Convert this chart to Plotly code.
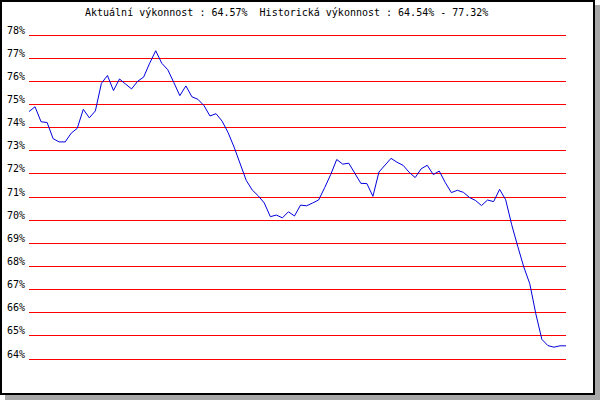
import plotly.graph_objs as go

# Performance series (%)
vykon = [74.69, 74.90, 74.25, 74.22, 73.52, 73.38, 73.38, 73.76, 73.97, 74.79,
         74.42, 74.72, 75.91, 76.25, 75.60, 76.10, 75.88, 75.67, 76.00, 76.18,
         76.78, 77.32, 76.78, 76.50, 75.95, 75.38, 75.80, 75.33, 75.22, 74.95,
         74.50, 74.60, 74.28, 73.78, 73.15, 72.45, 71.72, 71.30, 71.05, 70.74,
         70.15, 70.22, 70.10, 70.36, 70.18, 70.65, 70.62, 70.74, 70.87, 71.40,
         71.97, 72.62, 72.42, 72.46, 72.00, 71.59, 71.58, 71.03, 72.08, 72.40,
         72.67, 72.50, 72.37, 72.07, 71.84, 72.22, 72.37, 71.97, 72.12, 71.62,
         71.19, 71.29, 71.20, 70.98, 70.85, 70.63, 70.87, 70.80, 71.33, 70.88,
         69.80, 68.87, 67.98, 67.25, 65.95, 64.85, 64.58, 64.51, 64.57, 64.57]
y_ticks = list(range(64, 79))
y_labels = [f"{v}%" for v in y_ticks]
nadpis = "Aktuální výkonnost : 64.57%  Historická výkonnost : 64.54% - 77.32%"

W, H = 600, 400
# plot area: 78% line at y=35 px, 64% line at y=359 px; pad 3 px so edge gridlines are drawn
L, R, T, B = 29, 34, 32, 38
pw, ph = W - L - R, H - T - B
y_pad = 3 * 14 / 324


def px(x):
    return (x - L) / pw


def py(y):
    return (H - B - y) / ph


font = dict(family="DejaVu Sans Mono", size=10, color="black")

fig = go.Figure()
fig.add_trace(go.Scatter(x=list(range(len(vykon))), y=vykon, mode="lines",
                         line=dict(color="#0000dd", width=1), hoverinfo="skip",
                         cliponaxis=False))

fig.update_layout(
    width=W, height=H,
    margin=dict(l=L, r=R, t=T, b=B, pad=0, autoexpand=False),
    paper_bgcolor="white",
    plot_bgcolor="rgba(0,0,0,0)",
    showlegend=False,
    xaxis=dict(range=[0, len(vykon) - 1], visible=False, automargin=False),
    yaxis=dict(range=[64 - y_pad, 78 + y_pad], tickvals=y_ticks, ticktext=y_labels,
               showgrid=True, gridcolor="#ff0000", gridwidth=1,
               zeroline=False, showline=False, ticks="", automargin=False,
               tickfont=font, ticklabelshift=-5, ticklabelstandoff=3),
    shapes=[
        # shadow
        dict(type="rect", xref="paper", yref="paper", layer="below",
             x0=px(5), x1=px(600), y0=py(5), y1=py(400),
             fillcolor="#a8a8a8", line=dict(width=0)),
        # frame
        dict(type="rect", xref="paper", yref="paper", layer="below",
             x0=px(1), x1=px(594), y0=py(1), y1=py(394),
             fillcolor="white", line=dict(color="black", width=2)),
    ],
    annotations=[
        dict(text=nadpis, xref="paper", yref="paper", x=px(83), y=py(13),
             xanchor="left", yanchor="middle", showarrow=False, font=font),
    ],
)

fig.write_html("out.html", config={"displayModeBar": False},
               post_script="document.body.style.margin='0';")
